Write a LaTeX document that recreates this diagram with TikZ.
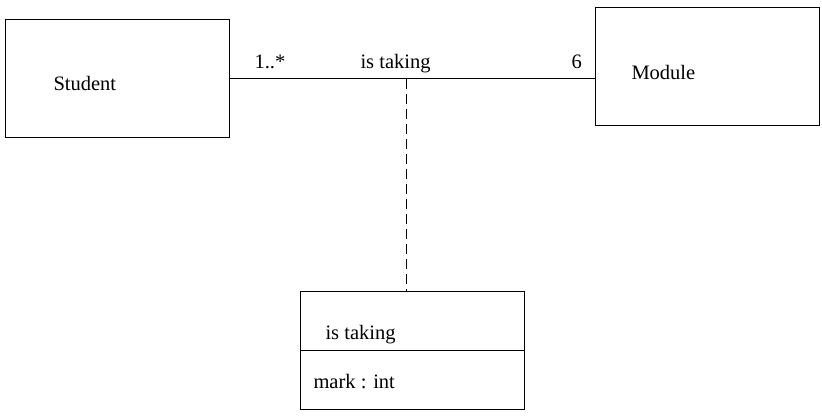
\documentclass[tikz,border=0pt]{standalone}
\usepackage{fontspec}
\setmainfont{Liberation Serif}
\begin{document}
\begin{tikzpicture}[x=1pt, y=-1pt, line width=1pt,
      classbox/.style ={rectangle, draw, minimum width=224pt, minimum height=118pt, inner sep=0pt},
      textlabel/.style ={anchor=base west, inner sep=0pt, font=\rmfamily\fontsize{20.5}{24}\selectfont}]

   \useasboundingbox (0,0) rectangle (822,417);

   \node[classbox] (student) at (117,79)  {};
   \node[classbox] (module)  at (707,67)  {};
   \node[classbox] (assoc)   at (412.5,350.5)  {};

   \node[textlabel] (studentname) at (53,91)  {Student};
   \node[textlabel] (modulename)  at (631,80) {Module};
   \node[textlabel] (mult1)  at (254,69)  {1..*};
   \node[textlabel] (assocname)  at (360,69)  {is taking};
   \node[textlabel] (mult2)  at (571,69)  {6};
   \node[textlabel] (classname)  at (325,339)  {is taking};
   \node[textlabel] (attr)  at (313,388)  {mark : int};

   \coordinate (mid) at (406,79);

   \draw (student.east) to (student.east -| module.west);
   \draw (assoc.west |- 0,350) to (assoc.east |- 0,350);

   \draw[dash pattern=on 10pt off 5pt] (mid) to (mid |- assoc.north);

 \end{tikzpicture}
\end{document}
